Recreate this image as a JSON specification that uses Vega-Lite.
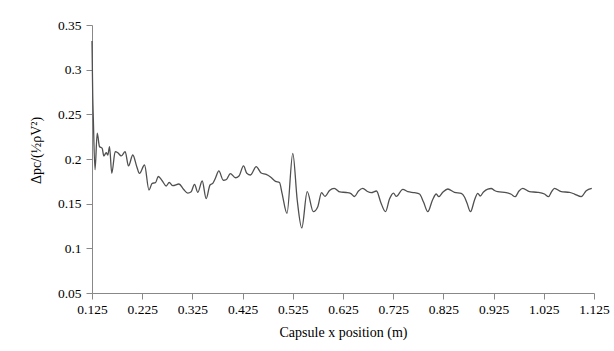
{
  "$schema": "https://vega.github.io/schema/vega-lite/v6.json",
  "width": 502,
  "height": 268,
  "autosize": {"type": "none"},
  "padding": {"left": 92, "top": 25, "right": 20, "bottom": 58},
  "background": "white",
  "config": {
    "view": {"stroke": null},
    "font": "Liberation Serif",
    "axis": {"grid": false, "domainColor": "#888888", "tickColor": "#888888", "labelColor": "#000000", "titleColor": "#000000", "labelFont": "Liberation Serif", "titleFont": "Liberation Serif", "labelFontSize": 13.5, "titleFontSize": 14, "titleFontWeight": "normal", "tickSize": 6}
  },
  "data": {
    "values": [
      {"x": 0.125, "y": 0.332},
      {"x": 0.1264, "y": 0.272},
      {"x": 0.1276, "y": 0.246},
      {"x": 0.131, "y": 0.188},
      {"x": 0.1354, "y": 0.229},
      {"x": 0.1399, "y": 0.214},
      {"x": 0.1453, "y": 0.212},
      {"x": 0.1485, "y": 0.2034},
      {"x": 0.1533, "y": 0.207},
      {"x": 0.1565, "y": 0.2045},
      {"x": 0.1599, "y": 0.2138},
      {"x": 0.1644, "y": 0.184},
      {"x": 0.1712, "y": 0.2082},
      {"x": 0.1764, "y": 0.207},
      {"x": 0.1832, "y": 0.2034},
      {"x": 0.1911, "y": 0.2082},
      {"x": 0.1977, "y": 0.1922},
      {"x": 0.2063, "y": 0.2045},
      {"x": 0.2142, "y": 0.1914},
      {"x": 0.2196, "y": 0.1838},
      {"x": 0.2296, "y": 0.1933},
      {"x": 0.2385, "y": 0.1653},
      {"x": 0.2449, "y": 0.1728},
      {"x": 0.2515, "y": 0.1735},
      {"x": 0.2569, "y": 0.1804},
      {"x": 0.2648, "y": 0.1757},
      {"x": 0.2728, "y": 0.1698},
      {"x": 0.2788, "y": 0.1737},
      {"x": 0.286, "y": 0.1701},
      {"x": 0.2983, "y": 0.172},
      {"x": 0.3073, "y": 0.1661},
      {"x": 0.3158, "y": 0.1619},
      {"x": 0.3226, "y": 0.1634},
      {"x": 0.3292, "y": 0.1717},
      {"x": 0.3358, "y": 0.1627},
      {"x": 0.3445, "y": 0.1754},
      {"x": 0.3525, "y": 0.1556},
      {"x": 0.3601, "y": 0.1709},
      {"x": 0.3656, "y": 0.1728},
      {"x": 0.371, "y": 0.1787},
      {"x": 0.3776, "y": 0.1866},
      {"x": 0.3866, "y": 0.1762},
      {"x": 0.3929, "y": 0.1771},
      {"x": 0.4005, "y": 0.1837},
      {"x": 0.4109, "y": 0.179},
      {"x": 0.4178, "y": 0.181},
      {"x": 0.4268, "y": 0.1922},
      {"x": 0.4334, "y": 0.184},
      {"x": 0.4407, "y": 0.1821},
      {"x": 0.4521, "y": 0.1914},
      {"x": 0.462, "y": 0.1843},
      {"x": 0.472, "y": 0.1827},
      {"x": 0.4806, "y": 0.1799},
      {"x": 0.4905, "y": 0.175},
      {"x": 0.4985, "y": 0.1737},
      {"x": 0.5035, "y": 0.1619},
      {"x": 0.5134, "y": 0.1392},
      {"x": 0.525, "y": 0.2064},
      {"x": 0.5338, "y": 0.1541},
      {"x": 0.5429, "y": 0.1228},
      {"x": 0.5537, "y": 0.1634},
      {"x": 0.5658, "y": 0.141},
      {"x": 0.5748, "y": 0.1466},
      {"x": 0.5822, "y": 0.1623},
      {"x": 0.5891, "y": 0.1582},
      {"x": 0.5981, "y": 0.1647},
      {"x": 0.6075, "y": 0.1672},
      {"x": 0.619, "y": 0.1631},
      {"x": 0.6314, "y": 0.1625},
      {"x": 0.64, "y": 0.1616},
      {"x": 0.6479, "y": 0.158},
      {"x": 0.6559, "y": 0.1642},
      {"x": 0.6644, "y": 0.1672},
      {"x": 0.6738, "y": 0.1636},
      {"x": 0.6812, "y": 0.1623},
      {"x": 0.6917, "y": 0.1642},
      {"x": 0.7007, "y": 0.1507},
      {"x": 0.7097, "y": 0.141},
      {"x": 0.7176, "y": 0.1552},
      {"x": 0.7256, "y": 0.1619},
      {"x": 0.731, "y": 0.1582},
      {"x": 0.7441, "y": 0.1661},
      {"x": 0.7541, "y": 0.1634},
      {"x": 0.7674, "y": 0.1623},
      {"x": 0.7774, "y": 0.1608},
      {"x": 0.7854, "y": 0.1518},
      {"x": 0.7939, "y": 0.141},
      {"x": 0.8033, "y": 0.1541},
      {"x": 0.8107, "y": 0.1608},
      {"x": 0.8158, "y": 0.1578},
      {"x": 0.8242, "y": 0.1631},
      {"x": 0.8338, "y": 0.1664},
      {"x": 0.8471, "y": 0.1627},
      {"x": 0.8605, "y": 0.1616},
      {"x": 0.867, "y": 0.1575},
      {"x": 0.872, "y": 0.1507},
      {"x": 0.879, "y": 0.141},
      {"x": 0.887, "y": 0.1541},
      {"x": 0.8935, "y": 0.1616},
      {"x": 0.8983, "y": 0.1586},
      {"x": 0.9049, "y": 0.1631},
      {"x": 0.9134, "y": 0.1664},
      {"x": 0.9202, "y": 0.167},
      {"x": 0.9268, "y": 0.1647},
      {"x": 0.9334, "y": 0.1634},
      {"x": 0.9501, "y": 0.1623},
      {"x": 0.9601, "y": 0.1605},
      {"x": 0.968, "y": 0.1578},
      {"x": 0.9756, "y": 0.1642},
      {"x": 0.9832, "y": 0.1672},
      {"x": 0.9965, "y": 0.1634},
      {"x": 1.013, "y": 0.1627},
      {"x": 1.0264, "y": 0.1608},
      {"x": 1.0344, "y": 0.1578},
      {"x": 1.0403, "y": 0.1631},
      {"x": 1.0463, "y": 0.1672},
      {"x": 1.0597, "y": 0.1634},
      {"x": 1.0762, "y": 0.1627},
      {"x": 1.0862, "y": 0.1608},
      {"x": 1.0995, "y": 0.1578},
      {"x": 1.1095, "y": 0.1645},
      {"x": 1.1206, "y": 0.1672}
    ]
  },
  "mark": {"type": "line", "interpolate": "monotone", "color": "#505050", "strokeWidth": 1.3},
  "encoding": {
    "x": {
      "field": "x", "type": "quantitative",
      "scale": {"domain": [0.125, 1.125], "nice": false, "zero": false},
      "axis": {"values": [0.125, 0.225, 0.325, 0.425, 0.525, 0.625, 0.725, 0.825, 0.925, 1.025, 1.125], "format": ".3f", "labelPadding": 3, "title": "Capsule x position (m)", "titlePadding": 10, "labelFlush": false}
    },
    "y": {
      "field": "y", "type": "quantitative",
      "scale": {"domain": [0.05, 0.35], "nice": false, "zero": false},
      "axis": {"values": [0.05, 0.1, 0.15, 0.2, 0.25, 0.3, 0.35], "format": "~g", "labelPadding": 5, "title": "Δpc/(½ρV²)", "titlePadding": 14, "titleY": 125, "labelFlush": false}
    }
  }
}
